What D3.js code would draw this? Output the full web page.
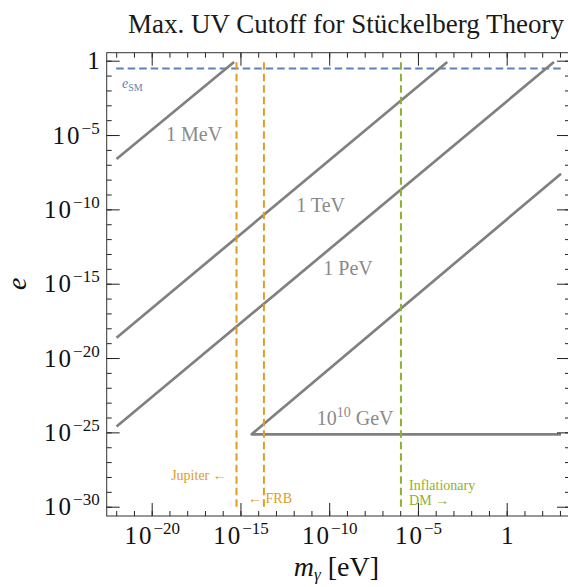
<!DOCTYPE html>
<html>
<head>
<meta charset="utf-8">
<script src="https://cdn.jsdelivr.net/npm/d3@7"></script>
<style>
body { margin: 0; background: #fff; }
svg { display: block; overflow: hidden; }
text { font-family: "Liberation Serif", "DejaVu Serif", serif; }
</style>
</head>
<body>
<div id="chart"></div>
<script>
// cutoff contours, log10 of (m_gamma [eV], e) along each line
const cutoff_names = ["1 MeV", "1 TeV", "1 PeV", "10^10 GeV"];
const cutoff_log_m = [[-21.98, -15.36], [-21.98, -3.35], [-21.98, 2.66], [3.06, -14.37, 3.06]];
const cutoff_log_e = [[-6.61, -0.09], [-18.63, -0.09], [-24.61, -0.09], [-25.13, -25.13, -7.6]];
// where each cutoff label sits (log10 m, log10 e of baseline start)
const cutoff_label_m = [-19.19, -11.86, -10.33, -10.7];
const cutoff_label_e = [-5.38, -10.16, -14.41, -24.5];

// vertical bounds on the photon mass
const bound_names = ["Jupiter", "FRB", "Inflationary DM"];
const bound_mass = [6.0e-16, 2.1e-14, 1.1e-6];
const bound_e_range = [1e-30, 1];

// Standard Model coupling
const e_sm = 0.303;
const e_sm_m_range = [1e-22, 10 ** 3.17];

// tick decades
const x_decades = d3.range(-22, 4);
const x_major = [-20, -15, -10, -5, 0];
const y_decades = d3.range(-30, 1);
const y_major = [-30, -25, -20, -15, -10, -5, 0];

const margins = { top: 52.7, left: 106.7 };
const size = 463.3;
const W = 568, H = 587;

const x_scale = d3.scaleLog().domain([10 ** -22.535, 10 ** 3.566]).range([0, size]);
const y_scale = d3.scaleLog().domain([10 ** -30.625, 10 ** 0.538]).range([size, 0]);

const orange = "#E19C24", green = "#8FB032", blue = "#5E81B5", grey = "#808080";

const svg = d3.select("#chart").append("svg")
  .attr("width", W)
  .attr("height", H);

svg.append("text")
  .attr("x", 346).attr("y", 33)
  .attr("text-anchor", "middle")
  .attr("font-size", "27px")
  .attr("fill", "#1a1a1a")
  .text("Max. UV Cutoff for Stückelberg Theory");

const plot = svg.append("g")
  .attr("transform", "translate(" + margins.left + "," + margins.top + ")");

plot.append("clipPath").attr("id", "clip")
  .append("rect").attr("width", size).attr("height", size);

const layer = plot.append("g").attr("clip-path", "url(#clip)");

// e_SM line
layer.append("line")
  .attr("x1", x_scale(e_sm_m_range[0])).attr("x2", x_scale(e_sm_m_range[1]))
  .attr("y1", y_scale(e_sm)).attr("y2", y_scale(e_sm))
  .attr("stroke", blue).attr("stroke-width", 2)
  .attr("stroke-dasharray", "7.5,4");

// cutoff lines
const line = d3.line()
  .x(d => x_scale(10 ** d[0]))
  .y(d => y_scale(10 ** d[1]));

cutoff_names.forEach((name, i) => {
  const pts = cutoff_log_m[i].map((m, j) => [m, cutoff_log_e[i][j]]);
  layer.append("path")
    .datum(pts)
    .attr("d", line)
    .attr("fill", "none")
    .attr("stroke", grey)
    .attr("stroke-width", 2.7)
    .attr("stroke-linejoin", "round");
});

// vertical bounds
bound_mass.forEach((m, i) => {
  layer.append("line")
    .attr("x1", x_scale(m)).attr("x2", x_scale(m))
    .attr("y1", y_scale(bound_e_range[0])).attr("y2", y_scale(bound_e_range[1]))
    .attr("stroke", i < 2 ? orange : green)
    .attr("stroke-width", 2)
    .attr("stroke-dasharray", "7.5,4");
});

// cutoff labels
cutoff_names.forEach((name, i) => {
  const t = plot.append("text")
    .attr("x", x_scale(10 ** cutoff_label_m[i]))
    .attr("y", y_scale(10 ** cutoff_label_e[i]))
    .attr("font-size", "20px")
    .attr("fill", "#8a8a8a");
  if (name.startsWith("10^")) {
    const parts = name.match(/^10\^(\d+)(.*)$/);
    t.append("tspan").text("10");
    t.append("tspan").attr("dy", "-8px").attr("font-size", "14px").text(parts[1]);
    t.append("tspan").attr("dy", "8px").text(parts[2]);
  } else {
    t.text(name);
  }
});

// e_SM label
const esm = plot.append("text")
  .attr("x", x_scale(10 ** -21.67))
  .attr("y", y_scale(10 ** -1.84))
  .attr("fill", blue)
  .attr("font-size", "14px");
esm.append("tspan").attr("font-style", "italic").text("e");
esm.append("tspan").attr("dy", "3px").attr("font-size", "10px").text("SM");

// bound labels
const bl = (txt, m, e, col, anchor) => plot.append("text")
  .attr("x", x_scale(10 ** m)).attr("y", y_scale(10 ** e))
  .attr("fill", col).attr("font-size", "14px")
  .attr("text-anchor", anchor).text(txt);
bl(bound_names[0] + " ←", -15.77, -28.2, orange, "end");
bl("← " + bound_names[1], -14.57, -29.75, orange, "start");
bl(bound_names[2].split(" ")[0], -5.5, -28.85, green, "start");
bl(bound_names[2].split(" ")[1] + " →", -5.5, -29.9, green, "start");

// axes
const fmt_pow = function (d) {
  const k = Math.round(Math.log10(d));
  const t = d3.select(this).text(null);
  if (k === 0) { t.text("1"); return; }
  t.append("tspan").attr("letter-spacing", "2px").text("10");
  t.append("tspan").attr("dy", "-10px").attr("font-size", "17px").text((k < 0 ? "−" : "") + Math.abs(k));
};

function draw_axis(gen, values, len, labels, tr) {
  const g = plot.append("g")
    .attr("transform", tr)
    .call(gen.tickValues(values.map(k => 10 ** k))
      .tickSizeInner(-len).tickSizeOuter(0)
      .tickFormat(() => ""));
  g.select(".domain").remove();
  g.attr("color", "#222").attr("font-family", null).attr("font-size", "25px");
  g.selectAll(".tick line").attr("stroke-width", 1);
  if (labels) g.selectAll(".tick text").attr("fill", "#111").each(fmt_pow);
  else g.selectAll(".tick text").remove();
  return g;
}

draw_axis(d3.axisBottom(x_scale).tickPadding(10), x_major, 13, true, "translate(0," + size + ")");
draw_axis(d3.axisBottom(x_scale), x_decades, 5, false, "translate(0," + size + ")");
draw_axis(d3.axisTop(x_scale), x_major, 13, false, "translate(0,0)");
draw_axis(d3.axisTop(x_scale), x_decades, 5, false, "translate(0,0)");
draw_axis(d3.axisLeft(y_scale).tickPadding(7), y_major, 13, true, "translate(0,0)");
draw_axis(d3.axisLeft(y_scale), y_decades, 5, false, "translate(0,0)");
draw_axis(d3.axisRight(y_scale), y_major, 13, false, "translate(" + size + ",0)");
draw_axis(d3.axisRight(y_scale), y_decades, 5, false, "translate(" + size + ",0)");

// frame
plot.append("rect")
  .attr("width", size).attr("height", size)
  .attr("fill", "none").attr("stroke", "#333").attr("stroke-width", 1);

// axis titles
const xl = svg.append("text")
  .attr("x", margins.left + size / 2 - 2).attr("y", 576)
  .attr("text-anchor", "middle")
  .attr("font-size", "28px").attr("fill", "#111");
xl.append("tspan").attr("font-style", "italic").text("m");
xl.append("tspan").attr("font-style", "italic").attr("font-size", "17px").attr("dy", "4px").text("γ");
xl.append("tspan").attr("dy", "-4px").text(" [eV]");

svg.append("text")
  .attr("transform", "translate(26," + (margins.top + 231) + ") rotate(-90)")
  .attr("text-anchor", "middle")
  .attr("font-size", "28px").attr("font-style", "italic").attr("fill", "#111")
  .text("e");
</script>
</body>
</html>
